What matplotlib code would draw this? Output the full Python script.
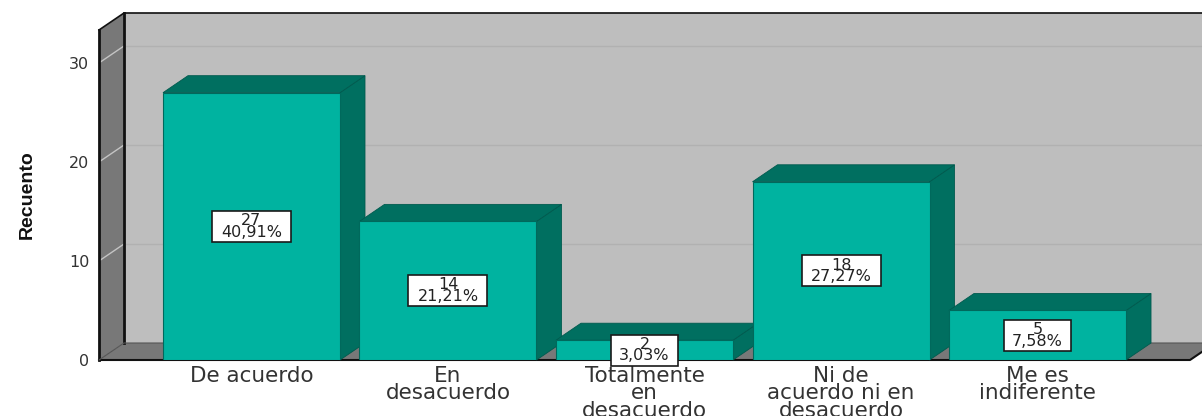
import matplotlib
matplotlib.use("Agg")
import matplotlib.pyplot as plt
from matplotlib.patches import Polygon, Rectangle

categorias = ["De acuerdo", "En\ndesacuerdo", "Totalmente\nen\ndesacuerdo",
              "Ni de\nacuerdo ni en\ndesacuerdo", "Me es\nindiferente"]
recuentos = [27, 14, 2, 18, 5]
porcentajes = ["40,91%", "21,21%", "3,03%", "27,27%", "7,58%"]
ticks_y = [0, 10, 20, 30]

W, H = 1202, 416
VERDE = "#00B3A0"
VERDE_OSCURO = "#006F60"
PARED = "#BEBEBE"
PARED_LADO = "#787878"

fig = plt.figure(figsize=(W / 100, H / 100), dpi=100, facecolor="white")
# eje frontal en pixeles: x 99-1190, y 30-360
ax = fig.add_axes([99 / W, (H - 360) / H, (1190 - 99) / W, 330 / H])
ax.set_xlim(-0.776, 4.776)
ax.set_ylim(0, 33.33)
ax.patch.set_visible(False)
for s in ax.spines.values():
    s.set_visible(False)

# profundidad del efecto 3D en unidades de datos
dx = 25 / 196.5
dy = 17 / 9.9
x0, x1 = ax.get_xlim()
y1 = ax.get_ylim()[1]


def poly(puntos, color, edge="none", lw=0.0, z=1):
    ax.add_patch(Polygon(puntos, closed=True, facecolor=color, edgecolor=edge,
                         linewidth=lw, zorder=z, clip_on=False))


# paredes y suelo
poly([(x0 + dx, dy), (x1 + dx, dy), (x1 + dx, y1 + dy), (x0 + dx, y1 + dy)], PARED)
poly([(x0, 0), (x0 + dx, dy), (x0 + dx, y1 + dy), (x0, y1)], PARED_LADO)
poly([(x0, 0), (x1, 0), (x1 + dx, dy), (x0 + dx, dy)], PARED_LADO)

for t in ticks_y[1:]:
    ax.plot([x0 + dx, x1 + dx], [t + dy, t + dy], color="#B1B1B1", lw=1, zorder=2, clip_on=False)
    ax.plot([x0, x0 + dx], [t, t + dy], color="#C4C4C4", lw=1, zorder=2, clip_on=False)

# bordes negros
ax.plot([x0, x0], [0, y1], color="#111111", lw=2, zorder=3, clip_on=False)
ax.plot([x0 + dx, x0 + dx], [dy, y1 + dy], color="#111111", lw=2, zorder=3, clip_on=False)
ax.plot([x0, x0 + dx, x1 + dx], [y1, y1 + dy, y1 + dy], color="#111111", lw=1.2, zorder=3, clip_on=False)
ax.plot([x0, x1, x1 + dx], [0, 0, dy], color="#111111", lw=1.5, zorder=3, clip_on=False)
ax.plot([x0, x0 + dx, x1 + dx], [0, dy, dy], color="#555555", lw=0.8, zorder=3, clip_on=False)

# barras, de izquierda a derecha para que se tapen bien
ancho = 177 / 196.5
z = 4
for i, v in enumerate(recuentos):
    izq, der = i - ancho / 2, i + ancho / 2
    poly([(der, 0), (der + dx, dy), (der + dx, v + dy), (der, v)], VERDE_OSCURO, "#005A4E", 0.6, z)
    poly([(izq, v), (der, v), (der + dx, v + dy), (izq + dx, v + dy)], VERDE_OSCURO, "#005A4E", 0.6, z)
    ax.bar(i, v, width=ancho, color=VERDE, edgecolor="#00695C", linewidth=0.8, zorder=z + 0.5)
    z += 1

# etiquetas: caja centrada en media barra, el ancho depende del texto
caja_h = 31 / 9.9
for i, v in enumerate(recuentos):
    caja_w = (12 * len(porcentajes[i]) + 7) / 196.5
    ax.add_patch(Rectangle((i - caja_w / 2, v / 2 - caja_h / 2), caja_w, caja_h, facecolor="white",
                           edgecolor="#1A1A1A", linewidth=1.2, zorder=20, clip_on=False))
    ax.text(i, v / 2, "%d\n%s" % (v, porcentajes[i]), ha="center", va="center",
            fontsize=11.5, color="#222222", linespacing=0.72, zorder=21)

ax.set_xticks(range(len(categorias)))
ax.set_xticklabels(categorias, fontsize=15.5, color="#333333", linespacing=0.86)
ax.set_yticks(ticks_y)
ax.set_yticklabels([str(t) for t in ticks_y], fontsize=11.5, color="#333333")
ax.tick_params(axis="x", length=0, pad=4)
ax.tick_params(axis="y", length=0, pad=7)

ax.set_ylabel("Recuento", family="Liberation Sans", fontweight="bold",
              fontsize=14, color="#111111")
ax.yaxis.set_label_coords(-0.058, 0.5)

plt.savefig("out.png", dpi=100)
